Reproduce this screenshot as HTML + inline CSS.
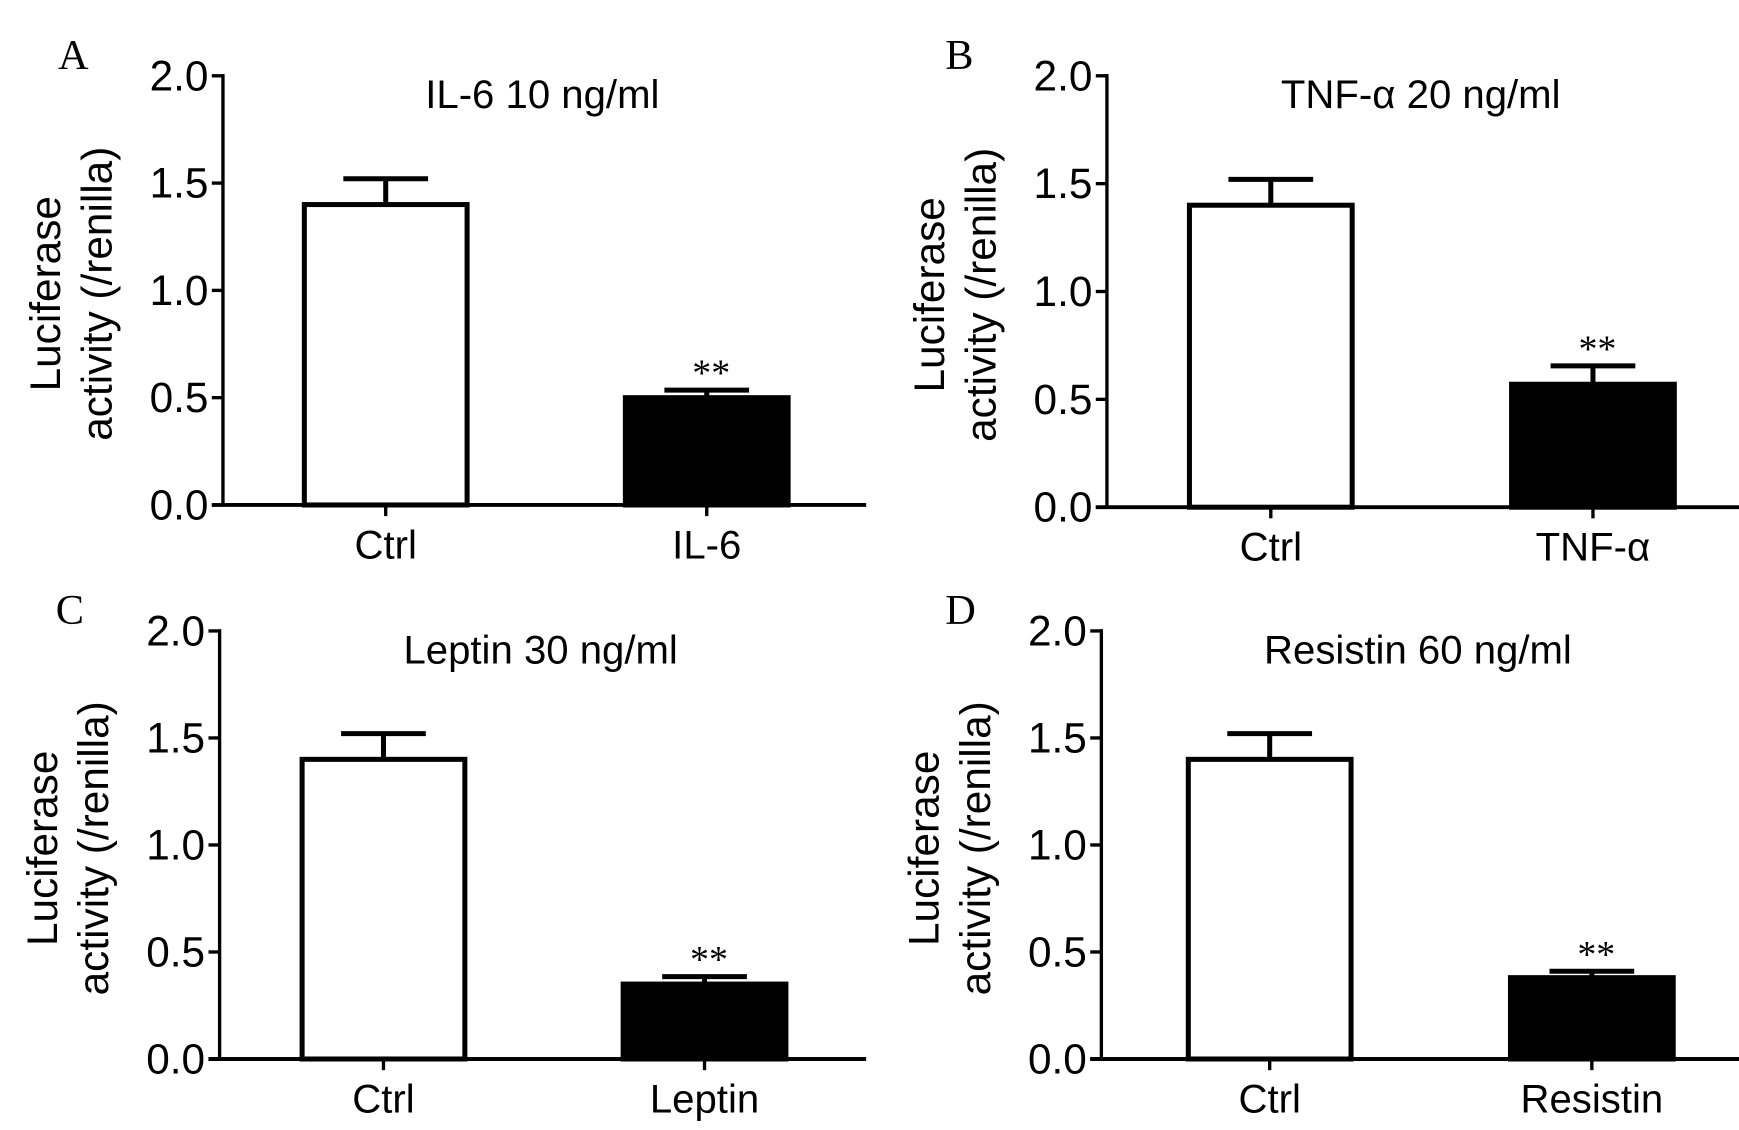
<!DOCTYPE html>
<html><head><meta charset="utf-8"><style>
html,body{margin:0;padding:0;background:#fff;}
svg{display:block;}
text{font-family:"Liberation Sans",Arial,sans-serif;fill:#000;}
.lbl{font-family:"Liberation Serif","Times New Roman",serif;}
</style></head><body>
<svg id="fig" width="1739" height="1130" viewBox="0 0 1560 1013.7" xmlns="http://www.w3.org/2000/svg"></svg>
<script>
const panelLetters = ["A", "B", "C", "D"];
const panelTitles = ["IL-6 10 ng/ml", "TNF-\u03b1 20 ng/ml", "Leptin 30 ng/ml", "Resistin 60 ng/ml"];
const categoriesA = ["Ctrl", "IL-6"];
const categoriesB = ["Ctrl", "TNF-\u03b1"];
const categoriesC = ["Ctrl", "Leptin"];
const categoriesD = ["Ctrl", "Resistin"];
const meansA = [1.40, 0.50];
const meansB = [1.40, 0.57];
const meansC = [1.40, 0.35];
const meansD = [1.40, 0.38];
const errorsA = [0.12, 0.035];
const errorsB = [0.12, 0.085];
const errorsC = [0.12, 0.035];
const errorsD = [0.12, 0.03];
const yTicks = [0.0, 0.5, 1.0, 1.5, 2.0];
const yTickLabels = ["0.0", "0.5", "1.0", "1.5", "2.0"];
const significance = ["", "**"];

const NS = "http://www.w3.org/2000/svg";
const svg = document.getElementById("fig");
function mk(tag, attrs, parent) {
  const e = document.createElementNS(NS, tag);
  for (const k in attrs) e.setAttribute(k, attrs[k]);
  (parent || svg).appendChild(e);
  return e;
}
const layouts = [
  {ax: 200, y0: 453, y2: 68, xEnd: 777, c: [346, 634], bw: 146, lx: 52, ly: 62},
  {ax: 993, y0: 455, y2: 68, xEnd: 1560, c: [1140, 1429], bw: 146, lx: 848, ly: 62},
  {ax: 197, y0: 950, y2: 566, xEnd: 777, c: [344, 632], bw: 146, lx: 50, ly: 560},
  {ax: 988, y0: 950, y2: 566, xEnd: 1560, c: [1139, 1428], bw: 146, lx: 848, ly: 560}
];
const cats = [categoriesA, categoriesB, categoriesC, categoriesD];
const means = [meansA, meansB, meansC, meansD];
const errs = [errorsA, errorsB, errorsC, errorsD];

layouts.forEach((L, p) => {
  const g = mk("g", {});
  
  
  const y = v => L.y0 - (L.y0 - L.y2) * v / 2.0;
  const xc = i => L.c[i];

  const letter = mk("text", {x: L.lx, y: L.ly, "font-size": 38, class: "lbl"}, g);
  letter.textContent = panelLetters[p];
  
  

  const title = mk("text", {x: (L.ax + L.xEnd) / 2 - 2, y: L.y2 + 29, "font-size": 36, "text-anchor": "middle"}, g);
  title.textContent = panelTitles[p];
  
  

  const yt = mk("text", {"font-size": 38, "text-anchor": "middle", transform: `translate(${L.ax - 146},${(L.y0 + L.y2) / 2 + 3}) rotate(-90)`}, g);
  
  
  const t1 = mk("tspan", {x: 0, dy: 0}, yt); t1.textContent = "Luciferase";
  const t2 = mk("tspan", {x: 0, dy: 46}, yt); t2.textContent = "activity (/renilla)";

  cats[p].forEach((c, i) => {
    const v = means[p][i], e = errs[p][i];
    const filled = i === 1;
    const err = mk("path", {d: `M${xc(i)},${y(v)} V${y(v + e)} M${xc(i) - 38},${y(v + e)} H${xc(i) + 38}`, stroke: "#000", "stroke-width": 4.5, fill: "none"}, g);
    
    
    const r = mk("rect", {x: xc(i) - L.bw / 2, y: y(v), width: L.bw, height: L.y0 - y(v), fill: filled ? "#000" : "#fff", stroke: "#000", "stroke-width": 4.5}, g);
    
    
    const xl = mk("text", {x: xc(i), y: L.y0 + 48, "font-size": 36, "text-anchor": "middle"}, g);
    xl.textContent = c;
    
    
    const tk = mk("line", {x1: xc(i), x2: xc(i), y1: L.y0, y2: L.y0 + 10, stroke: "#000", "stroke-width": 3}, g);
    
    
    if (significance[i]) {
      const s = mk("text", {x: xc(i) + 4, y: y(v + e) - 4, "font-size": 34, "text-anchor": "middle", class: "lbl"}, g);
      s.textContent = significance[i];
      
      
    }
  });

  const ya = mk("line", {x1: L.ax, x2: L.ax, y1: L.y2 - 1.5, y2: L.y0, stroke: "#000", "stroke-width": 3}, g);
  
  
  const xa = mk("line", {x1: L.ax - 10, x2: L.xEnd, y1: L.y0, y2: L.y0, stroke: "#000", "stroke-width": 3.5}, g);
  
  
  yTicks.forEach((v, k) => {
    const t = mk("line", {x1: L.ax - 10, x2: L.ax, y1: y(v), y2: y(v), stroke: "#000", "stroke-width": 3}, g);
    
    
    const tl = mk("text", {x: L.ax - 13, y: y(v) + 13, "font-size": 38, "text-anchor": "end"}, g);
    tl.textContent = yTickLabels[k];
    
    
  });
});
</script>
</body></html>
